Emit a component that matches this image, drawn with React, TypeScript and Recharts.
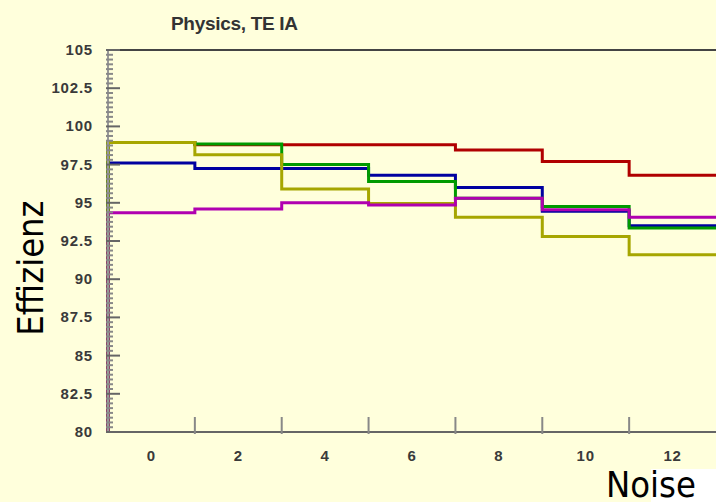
import { Line, LineChart, ReferenceLine, XAxis, YAxis } from "recharts";

// bin edges (histogram, 2 units wide, centered on even noise values)
const binEdges = [-1, 1, 3, 5, 7, 9, 11, 13];
const baseline = 80;

const red = [98.95, 98.8, 98.8, 98.8, 98.45, 97.7, 96.8];
const blue = [97.6, 97.25, 97.25, 96.8, 96.0, 94.45, 93.5];
const green = [98.95, 98.85, 97.5, 96.4, 95.3, 94.75, 93.35];
const yellow = [98.95, 98.15, 95.9, 94.95, 94.05, 92.8, 91.6];
const magenta = [94.35, 94.6, 95.0, 94.85, 95.3, 94.55, 94.05];

const yMajor = [80, 82.5, 85, 87.5, 90, 92.5, 95, 97.5, 100, 102.5, 105];
const xTicks = [0, 1, 2, 3, 4, 5, 6, 7, 8, 9, 10, 11, 12];

const yTicks = yMajor.flatMap((m, i) =>
  i === yMajor.length - 1
    ? [m]
    : [m, ...[1, 2, 3, 4, 5, 6, 7].map((k) => m + (k * 2.5) / 8)],
);

const series = [
  { name: "red", values: red, color: "#b00000" },
  { name: "blue", values: blue, color: "#0000a0" },
  { name: "green", values: green, color: "#009a00" },
  { name: "yellow", values: yellow, color: "#a6a600" },
  { name: "magenta", values: magenta, color: "#b000b0" },
];

function toSteps(values: number[]) {
  const pts = [{ x: binEdges[0], y: baseline }];
  values.forEach((v, i) => pts.push({ x: binEdges[i], y: v }));
  pts.push({ x: binEdges[binEdges.length - 1], y: values[values.length - 1] });
  return pts;
}

const tickFont = {
  fontFamily: "'Liberation Sans', Arial, sans-serif",
  fontWeight: 700,
  fontSize: 15,
  fill: "#3a3a3a",
  letterSpacing: 0.8,
};

function YTick({ x, y, payload }: any) {
  const major = yMajor.includes(payload.value);
  return (
    <g>
      <line
        x1={x}
        x2={x + (major ? 14 : 7)}
        y1={y}
        y2={y}
        stroke={major ? "#666" : "#888"}
        strokeWidth={2}
      />
      {major && (
        <text x={x - 13} y={y} dy={5} textAnchor="end" {...tickFont}>
          {payload.value}
        </text>
      )}
    </g>
  );
}

function XTick({ x, y, payload }: any) {
  if (payload.value % 2 === 1) {
    return (
      <line x1={x} x2={x} y1={y} y2={y - 17} stroke="#888" strokeWidth={2} />
    );
  }
  return (
    <text x={x} y={y + 27} textAnchor="middle" {...tickFont}>
      {payload.value}
    </text>
  );
}

export default function App() {
  return (
    <div
      style={{
        position: "fixed",
        left: 0,
        top: 0,
        width: 716,
        height: 502,
        background: "#ffffdc",
        overflow: "hidden",
      }}
    >
      <LineChart
        width={716}
        height={502}
        margin={{ top: 50, right: 0, bottom: 30, left: 48 }}
      >
        <XAxis
          type="number"
          dataKey="x"
          domain={[-1, 13]}
          ticks={xTicks}
          interval={0}
          tick={<XTick />}
          tickLine={false}
          tickSize={0}
          height={40}
          axisLine={{ stroke: "#666", strokeWidth: 2 }}
          allowDuplicatedCategory={false}
        />
        <YAxis
          type="number"
          domain={[80, 105]}
          ticks={yTicks}
          interval={0}
          tick={<YTick />}
          tickLine={false}
          tickSize={0}
          width={60}
          axisLine={{ stroke: "#999", strokeWidth: 2 }}
        />
        <ReferenceLine y={105} stroke="#444" strokeWidth={2} />
        {series.map((s) => (
          <Line
            key={s.name}
            data={toSteps(s.values)}
            dataKey="y"
            type="stepAfter"
            stroke={s.color}
            strokeWidth={3}
            dot={false}
            isAnimationActive={false}
          />
        ))}
      </LineChart>
      <svg
        width={716}
        height={502}
        style={{ position: "absolute", left: 0, top: 0, pointerEvents: "none" }}
      >
        <rect x={651} y={469} width={65} height={33} fill="#ffffff" />
        <text
          x={171}
          y={30}
          fontFamily="'Liberation Sans', Arial, sans-serif"
          fontWeight={700}
          fontSize={19}
          fill="#333"
          letterSpacing={-0.3}
        >
          Physics, TE IA
        </text>
        <text
          x={43}
          y={268}
          transform="rotate(-90, 43, 268)"
          textAnchor="middle"
          fontFamily="'DejaVu Sans Condensed', 'DejaVu Sans', sans-serif"
          fontStretch="condensed"
          fontSize={36}
          fill="#000"
        >
          Effizienz
        </text>
        <text
          x={606}
          y={497}
          fontFamily="'DejaVu Sans Condensed', 'DejaVu Sans', sans-serif"
          fontStretch="condensed"
          fontSize={36}
          fill="#000"
        >
          Noise
        </text>
      </svg>
    </div>
  );
}
